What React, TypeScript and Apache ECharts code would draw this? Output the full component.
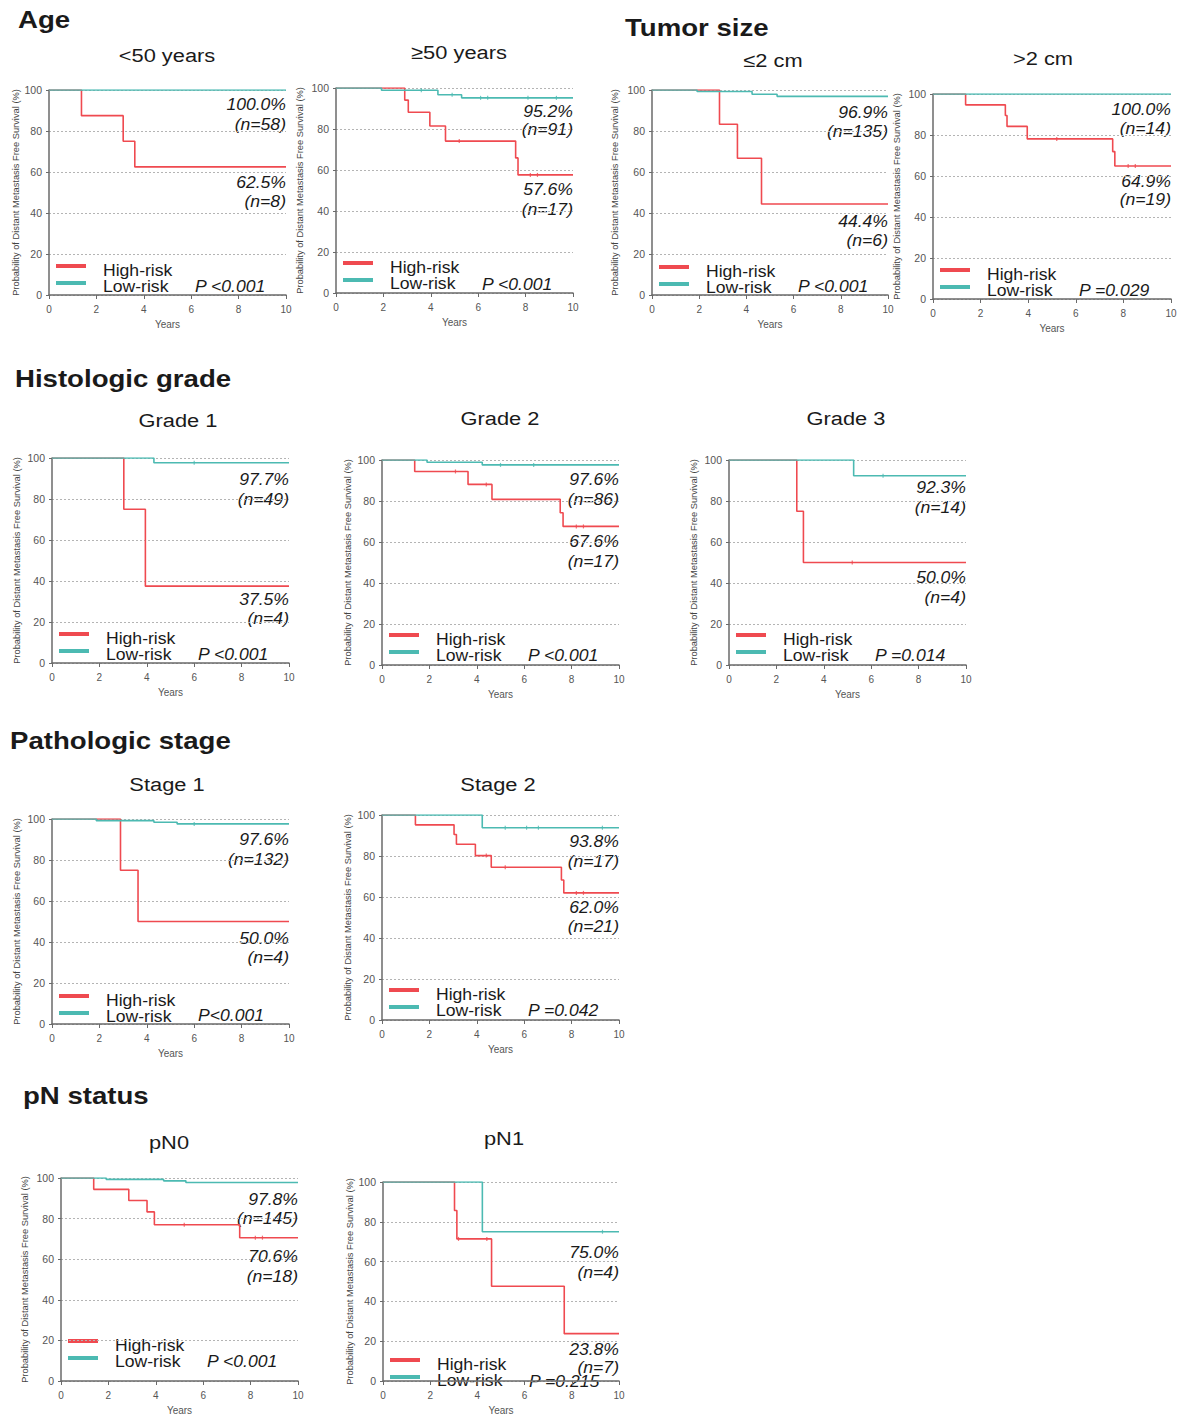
import React, { useEffect, useRef } from "react";
import * as echarts from "echarts";

const FONT = "'Liberation Sans', Arial, Helvetica, sans-serif";
const RED = "#ef4a50";
const TEAL = "#4cbab2";

// ---------- Data (time in years, survival in %) ----------
const ageLt50HighT = [0, 1.37, 3.13, 3.62, 10];
const ageLt50HighS = [100, 87.5, 75.0, 62.5, 62.5];
const ageLt50LowT = [0, 10];
const ageLt50LowS = [100, 100];

const ageGe50HighT = [0, 2.9, 3.05, 3.96, 4.62, 7.58, 7.68, 10];
const ageGe50HighS = [100, 94.1, 88.2, 81.5, 74.1, 65.9, 57.6, 57.6];
const ageGe50LowT = [0, 1.92, 4.3, 5.3, 10];
const ageGe50LowS = [100, 98.9, 96.7, 95.2, 95.2];

const sizeLe2HighT = [0, 2.86, 3.62, 4.64, 10];
const sizeLe2HighS = [100, 83.3, 66.7, 44.4, 44.4];
const sizeLe2LowT = [0, 1.91, 4.24, 5.3, 10];
const sizeLe2LowS = [100, 99.3, 97.9, 96.9, 96.9];

const sizeGt2HighT = [0, 1.37, 3.04, 3.11, 3.96, 7.55, 7.64, 10];
const sizeGt2HighS = [100, 94.7, 89.5, 84.2, 78.1, 71.9, 64.9, 64.9];
const sizeGt2LowT = [0, 10];
const sizeGt2LowS = [100, 100];

const grade1HighT = [0, 3.03, 3.94, 10];
const grade1HighS = [100, 75.0, 37.5, 37.5];
const grade1LowT = [0, 4.3, 10];
const grade1LowS = [100, 97.7, 97.7];

const grade2HighT = [0, 1.38, 3.63, 4.64, 7.52, 7.64, 10];
const grade2HighS = [100, 94.4, 88.1, 80.8, 74.3, 67.6, 67.6];
const grade2LowT = [0, 1.9, 4.23, 10];
const grade2LowS = [100, 98.9, 97.6, 97.6];

const grade3HighT = [0, 2.86, 3.14, 10];
const grade3HighS = [100, 75.0, 50.0, 50.0];
const grade3LowT = [0, 5.26, 10];
const grade3LowS = [100, 92.3, 92.3];

const stage1HighT = [0, 2.89, 3.63, 10];
const stage1HighS = [100, 75.0, 50.0, 50.0];
const stage1LowT = [0, 1.87, 4.3, 5.28, 10];
const stage1LowS = [100, 99.2, 98.4, 97.6, 97.6];

const stage2HighT = [0, 1.41, 3.04, 3.14, 3.94, 4.61, 7.57, 7.67, 10];
const stage2HighS = [100, 95.2, 90.5, 85.7, 80.2, 74.5, 68.3, 62.0, 62.0];
const stage2LowT = [0, 4.23, 10];
const stage2LowS = [100, 93.8, 93.8];

const pn0HighT = [0, 1.38, 2.86, 3.63, 3.94, 7.54, 10];
const pn0HighS = [100, 94.4, 88.9, 83.3, 77.0, 70.6, 70.6];
const pn0LowT = [0, 1.91, 4.33, 5.27, 10];
const pn0LowS = [100, 99.3, 98.6, 97.8, 97.8];

const pn1HighT = [0, 3.03, 3.13, 4.6, 7.68, 10];
const pn1HighS = [100, 85.7, 71.4, 47.6, 23.8, 23.8];
const pn1LowT = [0, 4.21, 10];
const pn1LowS = [100, 75.0, 75.0];

// censor times
const censHigh = [[], [5.2, 8.2, 8.5], [], [5.2, 8.2, 8.5], [], [3.1, 4.4, 8.2, 8.5], [5.2], [], [4.4, 5.2, 8.2, 8.5], [5.2, 8.2, 8.5], [3.2, 4.4]];
const censLow = [[], [3.6, 4.9, 6.1, 6.4, 8.1, 9.3], [], [], [6.0], [5.0, 6.4], [6.5], [6.0], [5.2, 6.1, 6.6, 9.3], [], [9.3]];

const sectionTitles = ["Age", "Tumor size", "Histologic grade", "Pathologic stage", "pN status"];
const panelTitles = ["<50 years", "≥50 years", "≤2 cm", ">2 cm", "Grade 1", "Grade 2", "Grade 3", "Stage 1", "Stage 2", "pN0", "pN1"];
const lowRiskEnd = ["100.0%", "95.2%", "96.9%", "100.0%", "97.7%", "97.6%", "92.3%", "97.6%", "93.8%", "97.8%", "75.0%"];
const lowRiskN = [58, 91, 135, 14, 49, 86, 14, 132, 17, 145, 4];
const highRiskEnd = ["62.5%", "57.6%", "44.4%", "64.9%", "37.5%", "67.6%", "50.0%", "50.0%", "62.0%", "70.6%", "23.8%"];
const highRiskN = [8, 17, 6, 19, 4, 17, 4, 4, 21, 18, 7];
const pValues = ["P <0.001", "P <0.001", "P <0.001", "P =0.029", "P <0.001", "P <0.001", "P =0.014", "P<0.001", "P =0.042", "P <0.001", "P =0.215"];
const xTicks = [0, 2, 4, 6, 8, 10];
const yTicks = [0, 20, 40, 60, 80, 100];

const highCurves = [
  [ageLt50HighT, ageLt50HighS], [ageGe50HighT, ageGe50HighS], [sizeLe2HighT, sizeLe2HighS], [sizeGt2HighT, sizeGt2HighS],
  [grade1HighT, grade1HighS], [grade2HighT, grade2HighS], [grade3HighT, grade3HighS],
  [stage1HighT, stage1HighS], [stage2HighT, stage2HighS], [pn0HighT, pn0HighS], [pn1HighT, pn1HighS],
];
const lowCurves = [
  [ageLt50LowT, ageLt50LowS], [ageGe50LowT, ageGe50LowS], [sizeLe2LowT, sizeLe2LowS], [sizeGt2LowT, sizeGt2LowS],
  [grade1LowT, grade1LowS], [grade2LowT, grade2LowS], [grade3LowT, grade3LowS],
  [stage1LowT, stage1LowS], [stage2LowT, stage2LowS], [pn0LowT, pn0LowS], [pn1LowT, pn1LowS],
];

// ---------- Layout ----------
const sectionPos = [[18, 20], [625, 28], [15, 379], [10, 741], [23, 1096]];
const titlePos = [[167, 55], [459, 52], [773, 60], [1043, 58], [178, 420], [500, 418], [846, 418], [167, 784], [498, 784], [169, 1142], [504, 1138]];
// l, t, w, h, annotation y offsets [upPct, upN, dnPct, dnN], legend y, p y
const layouts = [
  { l: 49, t: 90, w: 237, h: 205, a: [15, 35, 93, 112], leg: 176, py: 197, ng: 27 },
  { l: 336, t: 88, w: 237, h: 205, a: [24, 42, 102, 122], leg: 175, py: 197, ng: 32 },
  { l: 652, t: 90, w: 236, h: 205, a: [23, 42, 132, 151], leg: 177, py: 197, ng: 33 },
  { l: 933, t: 94, w: 238, h: 205, a: [16, 35, 88, 106], leg: 176, py: 197, ng: 32 },
  { l: 52, t: 458, w: 237, h: 205, a: [22, 42, 142, 161], leg: 176, py: 197, ng: 31 },
  { l: 382, t: 460, w: 237, h: 205, a: [20, 40, 82, 102], leg: 175, py: 196, ng: 30 },
  { l: 729, t: 460, w: 237, h: 205, a: [28, 48, 118, 138], leg: 175, py: 196, ng: 31 },
  { l: 52, t: 819, w: 237, h: 205, a: [21, 41, 120, 139], leg: 177, py: 197, ng: 31 },
  { l: 382, t: 815, w: 237, h: 205, a: [27, 47, 93, 112], leg: 175, py: 196, ng: 30 },
  { l: 61, t: 1178, w: 237, h: 205, a: [22, 41, 79, 99], leg: 163, py: 184, ng: 32 },
  { l: 383, t: 1182, w: 236, h: 204, a: [71, 91, 168, 186], leg: 178, py: 200, ng: 28 },
];

function survAt(T: number[], S: number[], t: number) {
  let v = S[0];
  for (let i = 0; i < T.length; i++) if (T[i] <= t) v = S[i];
  return v;
}

function txt(x: number, y: number, text: string, font: string, align: string, sx: number) {
  return {
    type: "text", x, y, scaleX: sx,
    style: { text, font, fill: "#1a1a1a", textAlign: align, textVerticalAlign: "middle" },
  };
}

function buildOption() {
  const grid: any[] = [];
  const xAxis: any[] = [];
  const yAxis: any[] = [];
  const series: any[] = [];
  const graphic: any[] = [];

  sectionTitles.forEach((s, i) => {
    graphic.push(txt(sectionPos[i][0], sectionPos[i][1], s, `bold 23px ${FONT}`, "left", 1.2));
  });

  panelTitles.forEach((title, i) => {
    const L = layouts[i];
    grid.push({ left: L.l, top: L.t, width: L.w, height: L.h, containLabel: false });
    xAxis.push({
      type: "value", gridIndex: i, min: xTicks[0], max: xTicks[xTicks.length - 1], interval: 2,
      name: "Years", nameLocation: "middle", nameGap: 24,
      nameTextStyle: { fontSize: 10, color: "#555", fontFamily: FONT },
      axisLine: { show: true, lineStyle: { color: "#6a6a6a", width: 1.5 } },
      axisTick: { show: true, length: 4, lineStyle: { color: "#6a6a6a" } },
      axisLabel: { fontSize: 10, color: "#555", fontFamily: FONT, margin: 9 },
      splitLine: { show: false },
    });
    yAxis.push({
      type: "value", gridIndex: i, min: yTicks[0], max: yTicks[yTicks.length - 1], interval: 20,
      name: "Probability of Distant Metastasis Free Survival (%)", nameLocation: "middle", nameGap: L.ng,
      nameTextStyle: { fontSize: 9.3, color: "#444", fontFamily: FONT },
      axisLine: { show: true, lineStyle: { color: "#6a6a6a", width: 1.5 } },
      axisTick: { show: true, length: 3, lineStyle: { color: "#6a6a6a" } },
      axisLabel: { fontSize: 10.5, color: "#555", fontFamily: FONT, margin: 7 },
      splitLine: { show: true, lineStyle: { color: "#b4b4b4", type: [2, 2], width: 1 } },
    });

    const [hT, hS] = highCurves[i];
    const [lT, lS] = lowCurves[i];
    series.push({
      type: "line", name: "High-risk", xAxisIndex: i, yAxisIndex: i, step: "end", showSymbol: false,
      lineStyle: { color: RED, width: 1.6 }, data: hT.map((t, k) => [t, hS[k]]), silent: true, z: 2,
    });
    series.push({
      type: "line", name: "Low-risk", xAxisIndex: i, yAxisIndex: i, step: "end", showSymbol: false,
      lineStyle: { color: TEAL, width: 1.6 }, data: lT.map((t, k) => [t, lS[k]]), silent: true, z: 3,
    });
    series.push({
      type: "scatter", xAxisIndex: i, yAxisIndex: i, symbol: "rect", symbolSize: [1.2, 4],
      itemStyle: { color: RED }, data: censHigh[i].map((t) => [t, survAt(hT, hS, t)]), silent: true, z: 2,
    });
    series.push({
      type: "scatter", xAxisIndex: i, yAxisIndex: i, symbol: "rect", symbolSize: [1.2, 4],
      itemStyle: { color: TEAL }, data: censLow[i].map((t) => [t, survAt(lT, lS, t)]), silent: true, z: 3,
    });

    // panel title
    graphic.push(txt(titlePos[i][0], titlePos[i][1], title, `19px ${FONT}`, "center", 1.15));

    // end annotations
    const right = L.l + L.w;
    const lowFinal = lS[lS.length - 1];
    const highFinal = hS[hS.length - 1];
    const upper = lowFinal >= highFinal ? [lowRiskEnd[i], `(n=${lowRiskN[i]})`] : [highRiskEnd[i], `(n=${highRiskN[i]})`];
    const lower = lowFinal >= highFinal ? [highRiskEnd[i], `(n=${highRiskN[i]})`] : [lowRiskEnd[i], `(n=${lowRiskN[i]})`];
    const texts = [upper[0], upper[1], lower[0], lower[1]];
    texts.forEach((tx, k) => {
      graphic.push(txt(right, L.t + L.a[k], tx, `italic 16px ${FONT}`, "right", 1.1));
    });

    // legend
    graphic.push({ type: "line", shape: { x1: L.l + 7, y1: L.t + L.leg, x2: L.l + 37, y2: L.t + L.leg }, style: { stroke: RED, lineWidth: 4 } });
    graphic.push({ type: "line", shape: { x1: L.l + 7, y1: L.t + L.leg + 17, x2: L.l + 37, y2: L.t + L.leg + 17 }, style: { stroke: TEAL, lineWidth: 4 } });
    graphic.push(txt(L.l + 54, L.t + L.leg + 5, "High-risk", `16px ${FONT}`, "left", 1.1));
    graphic.push(txt(L.l + 54, L.t + L.leg + 21, "Low-risk", `16px ${FONT}`, "left", 1.1));
    graphic.push(txt(L.l + 146, L.t + L.py, pValues[i], `italic 16px ${FONT}`, "left", 1.1));
  });

  return {
    animation: false,
    backgroundColor: "#ffffff",
    textStyle: { fontFamily: FONT },
    grid, xAxis, yAxis, series, graphic,
  };
}

export default function App() {
  const ref = useRef<HTMLDivElement>(null);
  useEffect(() => {
    if (!ref.current) return;
    const chart = echarts.init(ref.current, undefined, { renderer: "svg" });
    chart.setOption(buildOption());
    return () => chart.dispose();
  }, []);
  return (
    <div
      ref={ref}
      style={{ position: "absolute", left: 0, top: 0, width: 1180, height: 1416, background: "#fff" }}
    />
  );
}
